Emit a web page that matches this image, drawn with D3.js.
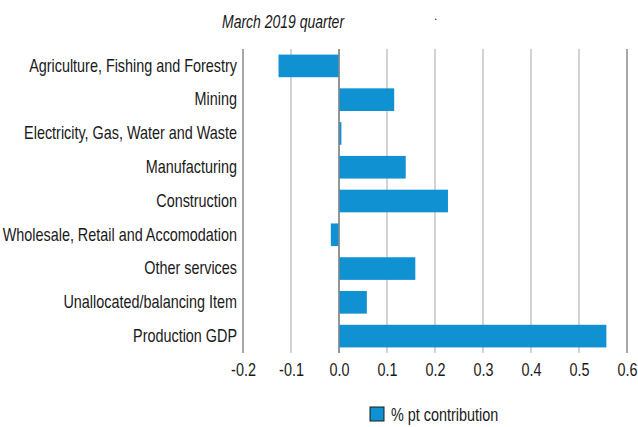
<!DOCTYPE html>
<html>
<head>
<meta charset="utf-8">
<script src="https://cdn.jsdelivr.net/npm/d3@7"></script>
<style>
	body { margin: 0; background: #fff; }
	text { font-family: "Liberation Sans", Arial, sans-serif; fill: #1a1a1a; }
</style>
</head>
<body>
<div id="viz"></div>
<script>
"use strict";

var industries = [
	"Agriculture, Fishing and Forestry",
	"Mining",
	"Electricity, Gas, Water and Waste",
	"Manufacturing",
	"Construction",
	"Wholesale, Retail and Accomodation",
	"Other services",
	"Unallocated/balancing Item",
	"Production GDP"
];
var contribution = [-0.126, 0.115, 0.005, 0.139, 0.227, -0.017, 0.159, 0.058, 0.557];
var xTicks = [-0.2, -0.1, 0.0, 0.1, 0.2, 0.3, 0.4, 0.5, 0.6];
var seriesName = "% pt contribution";
var title = "March 2019 quarter";

var width = 638, height = 427,
	margin = {top: 49, right: 11, bottom: 74, left: 243},
	barColor = "#0f91d2",
	narrow = "scale(0.8,1)"; // no narrow font installed, squeeze the normal one

var svg = d3.select("#viz")
	.append("svg")
	.attr("width", width)
	.attr("height", height)

var x = d3.scaleLinear()
	.domain([-0.2, 0.6])
	.range([margin.left, width - margin.right])

var y = d3.scaleBand()
	.domain(industries)
	.range([margin.top, height - margin.bottom])
	.paddingInner(0.33)
	.paddingOuter(0.165)

// gridlines
svg.append("g")
	.selectAll("line")
	.data(xTicks)
	.enter()
	.append("line")
	.attr("x1", function(d){ return x(d) })
	.attr("x2", function(d){ return x(d) })
	.attr("y1", margin.top)
	.attr("y2", height - margin.bottom)
	.attr("stroke", function(d, i){ return (i == 0 || d == 0 || i == xTicks.length - 1) ? "#8a8a8a" : "#c4c4c4" })
	.attr("stroke-width", 1.5)

svg.append("g")
	.selectAll("rect")
	.data(contribution)
	.enter()
	.append("rect")
	.attr("x", function(d){ return x(Math.min(0, d)) })
	.attr("width", function(d){ return Math.abs(x(d) - x(0)) })
	.attr("y", function(d, i){ return y(industries[i]) })
	.attr("height", y.bandwidth())
	.attr("fill", barColor)

// zero line drawn on top
svg.append("line")
	.attr("x1", x(0)).attr("x2", x(0))
	.attr("y1", margin.top).attr("y2", height - margin.bottom)
	.attr("stroke", "#8a8a8a")
	.attr("stroke-width", 1.2)

var fmt = d3.format(".1f")
var xAxis = svg.append("g")
	.attr("transform", "translate(0," + (height - margin.bottom) + ")")
	.call(d3.axisBottom(x).tickValues(xTicks)
		.tickFormat(function(d){ return fmt(d).replace("\u2212", "-") })
		.tickSize(0).tickPadding(0))
xAxis.select(".domain").remove()
xAxis.selectAll("text")
	.attr("font-size", "18px")
	.attr("font-family", null)
	.attr("dy", null)
	.attr("y", 23)
	.attr("transform", narrow)

var yAxis = svg.append("g")
	.attr("transform", "translate(" + (margin.left - 6) + ",0)")
	.call(d3.axisLeft(y).tickSize(0).tickPadding(0))
yAxis.select(".domain").remove()
yAxis.selectAll("text")
	.attr("font-size", "18px")
	.attr("font-family", null)
	.attr("transform", narrow)

svg.append("g")
	.attr("transform", "translate(222,28)")
	.append("text")
	.attr("font-size", "17.5px")
	.attr("font-style", "italic")
	.attr("transform", narrow)
	.text(title)

svg.append("text")
	.attr("x", 434)
	.attr("y", 20)
	.attr("font-size", "12px")
	.text(".")

var legend = svg.append("g")
	.attr("transform", "translate(370,407)")
legend.append("rect")
	.attr("width", 14)
	.attr("height", 14)
	.attr("fill", barColor)
	.attr("stroke", "#1a1a1a")
	.attr("stroke-width", 1)
legend.append("g")
	.attr("transform", "translate(21,14)")
	.append("text")
	.attr("font-size", "18px")
	.attr("transform", narrow)
	.text(seriesName)
</script>
</body>
</html>
